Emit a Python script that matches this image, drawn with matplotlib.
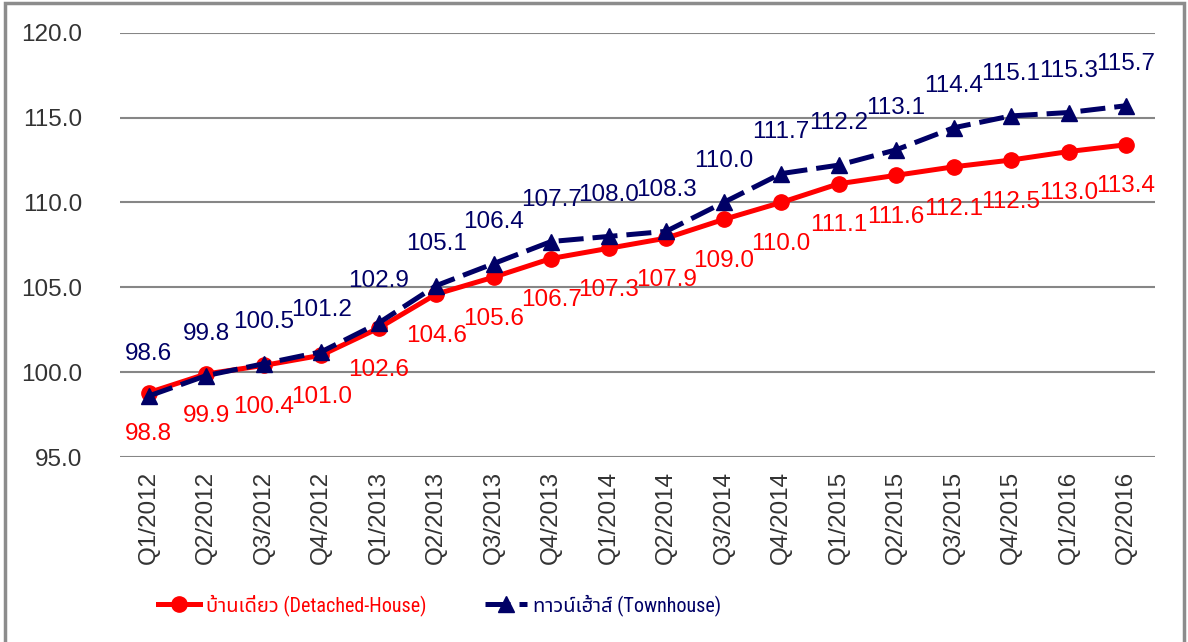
import matplotlib
matplotlib.use("Agg")
import matplotlib.pyplot as plt
from matplotlib import font_manager
from matplotlib.patches import Rectangle

quarters = ["Q1/2012", "Q2/2012", "Q3/2012", "Q4/2012",
            "Q1/2013", "Q2/2013", "Q3/2013", "Q4/2013",
            "Q1/2014", "Q2/2014", "Q3/2014", "Q4/2014",
            "Q1/2015", "Q2/2015", "Q3/2015", "Q4/2015",
            "Q1/2016", "Q2/2016"]
detached = [98.8, 99.9, 100.4, 101.0, 102.6, 104.6, 105.6, 106.7, 107.3,
            107.9, 109.0, 110.0, 111.1, 111.6, 112.1, 112.5, 113.0, 113.4]
townhouse = [98.6, 99.8, 100.5, 101.2, 102.9, 105.1, 106.4, 107.7, 108.0,
             108.3, 110.0, 111.7, 112.2, 113.1, 114.4, 115.1, 115.3, 115.7]
yticks = [95.0, 100.0, 105.0, 110.0, 115.0, 120.0]
label_detached = "บ้านเดี่ยว (Detached-House)"
label_townhouse = "ทาวน์เฮ้าส์ (Townhouse)"

RED = "#ff0000"
NAVY = "#000066"
FONT = ["Liberation Sans", "Noto Sans Thai", "Loma", "DejaVu Sans"]
plt.rcParams["font.family"] = FONT

# legend text in the reference is a narrow face
installed = {f.name for f in font_manager.fontManager.ttflist}
narrow = [n for n in ["Liberation Sans Narrow", "Roboto Condensed", "Open Sans Condensed"]
          if n in installed]
if narrow:
    leg_prop = {"family": narrow[:1] + FONT, "size": 14.5}
else:
    leg_prop = {"family": FONT, "size": 11.5}

fig = plt.figure(figsize=(11.88, 6.42), dpi=100)
ax = fig.add_axes([0.101, 0.288, 0.871, 0.661])

x = list(range(len(quarters)))
l1, = ax.plot(x, detached, color=RED, lw=3.6, marker="o", ms=11, label=label_detached)
l2, = ax.plot(x, townhouse, color=NAVY, lw=3.6, ls=(0, (5.0, 1.8)), marker="^", ms=11,
              label=label_townhouse)

for i, v in enumerate(detached):
    ax.annotate(f"{v:.1f}", (i, v), xytext=(0, -30), textcoords="offset points",
                ha="center", va="center", color=RED, fontsize=17.5)
for i, v in enumerate(townhouse):
    ax.annotate(f"{v:.1f}", (i, v), xytext=(0, 30), textcoords="offset points",
                ha="center", va="center", color=NAVY, fontsize=17.5)

ax.set_xlim(-0.5, len(quarters) - 0.5)
ax.set_ylim(95, 120)
ax.set_yticks(yticks)
ax.set_yticklabels([f"{t:.1f}" for t in yticks])
ax.set_xticks(x)
ax.set_xticklabels(quarters, rotation=90)
ax.tick_params(axis="both", length=0, labelsize=17.5, colors="#333333")
ax.tick_params(axis="y", pad=27)
ax.tick_params(axis="x", pad=10)
ax.yaxis.grid(True, color="#868686", lw=1.5)
ax.set_axisbelow(True)
for s in ax.spines.values():
    s.set_visible(False)

leg = fig.legend(handles=[l1, l2], loc="center", bbox_to_anchor=(0.37, 0.058),
                 ncol=2, frameon=False, handlelength=2.1,
                 columnspacing=2.9, handletextpad=0.3, prop=leg_prop)
for t, c in zip(leg.get_texts(), [RED, NAVY]):
    t.set_color(c)

fig.patches.append(Rectangle((0.004, -0.01), 0.993, 1.006, transform=fig.transFigure,
                             fill=False, edgecolor="#8c8c8c", lw=2.5))

fig.savefig("out.png", dpi=100)
